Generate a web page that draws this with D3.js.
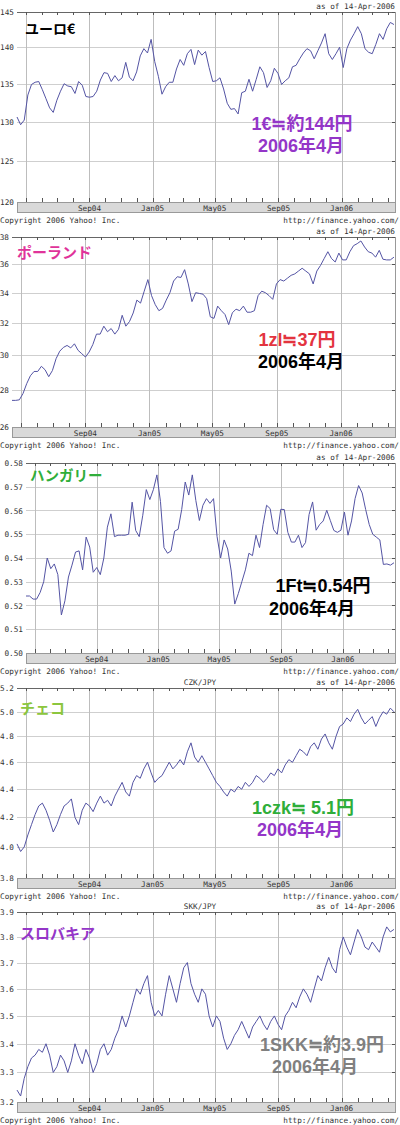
<!DOCTYPE html>
<html>
<head>
<meta charset="utf-8">
<script src="https://cdn.jsdelivr.net/npm/d3@7"></script>
<style>
  body { margin: 0; background: #fff; }
  svg { display: block; }
  .mono { font-family: "DejaVu Sans Mono", monospace; font-size: 7.7px; fill: #333; }
  .jp { font-family: "Noto Sans CJK JP", sans-serif; font-weight: 700; }
  .note { font-family: "Liberation Sans", "Noto Sans CJK JP", sans-serif; font-weight: 700; }
</style>
</head>
<body>
<svg id="chart" width="400" height="1125"></svg>
<script>
// weekly closes, 14-Apr-2004 .. 12-Apr-2006
const startDate = "2004-04-14";
const eurJpy = [
  130.6,129.6,130.2,133.5,134.9,135.2,135.3,134.2,133.0,131.8,
  131.2,132.8,134.0,135.0,134.7,134.6,133.7,135.3,134.8,133.3,
  133.2,133.3,134.0,135.5,136.5,136.4,135.3,136.1,135.4,135.8,
  137.9,135.9,135.4,136.6,138.8,139.8,139.2,141.1,138.0,136.0,
  133.6,134.6,135.2,135.2,137.0,138.3,137.5,139.1,139.7,137.6,
  139.6,138.9,139.4,137.2,135.3,135.4,135.8,134.3,132.4,131.6,
  131.7,131.0,133.8,134.0,135.6,134.0,135.6,137.3,136.5,134.5,
  135.4,137.1,136.4,134.9,135.4,135.8,137.3,137.5,138.4,139.2,
  139.8,139.5,138.4,139.5,140.6,141.9,139.1,138.3,139.1,140.0,
  137.2,139.8,141.0,141.9,142.9,141.9,139.8,139.3,139.1,140.4,
  141.9,141.1,142.6,143.5,143.2
];
const plnJpy = [
  27.42,27.42,27.45,27.8,28.35,28.8,29.05,29.05,29.35,29.15,
  28.75,29.1,29.8,30.25,30.48,30.6,30.45,30.7,30.3,30.1,
  29.9,30.2,30.65,31.3,31.3,31.8,31.45,31.65,31.3,31.6,
  32.5,31.8,32.1,32.65,33.5,33.3,34.1,34.9,33.8,33.2,
  32.8,32.95,33.5,34.0,34.8,35.1,35.05,35.6,34.6,33.4,
  34.0,33.95,33.9,33.6,32.4,32.3,33.1,32.8,32.55,31.9,
  32.66,32.9,32.8,33.1,32.7,32.7,32.8,33.8,34.1,34.0,
  33.8,33.55,34.6,34.9,34.8,35.0,35.2,35.3,35.5,35.7,
  35.5,35.3,34.6,35.5,35.9,36.4,36.9,36.4,36.15,36.8,
  36.3,36.3,36.9,37.35,37.5,37.7,37.25,36.9,36.8,36.5,
  37.0,36.35,36.3,36.3,36.5
];
const hufJpy = [
  0.524,0.524,0.5227,0.5227,0.5255,0.530,0.540,0.5355,0.5375,0.533,
  0.516,0.522,0.532,0.537,0.5425,0.543,0.535,0.5488,0.5446,0.534,
  0.536,0.533,0.540,0.553,0.5586,0.549,0.5496,0.5496,0.5496,0.550,
  0.5635,0.5516,0.549,0.558,0.5688,0.5646,0.5688,0.575,0.5638,0.5444,
  0.542,0.543,0.5513,0.5521,0.5604,0.572,0.5665,0.575,0.5642,0.5558,
  0.5622,0.565,0.563,0.565,0.549,0.540,0.5476,0.5438,0.5345,0.5206,
  0.525,0.530,0.535,0.542,0.541,0.5496,0.5444,0.5541,0.5622,0.5608,
  0.5519,0.550,0.5605,0.5604,0.5508,0.5467,0.5467,0.5496,0.5444,0.5465,
  0.5583,0.5636,0.5517,0.5541,0.5556,0.5601,0.5558,0.5516,0.5508,0.5517,
  0.5593,0.5496,0.5556,0.565,0.5705,0.5674,0.5604,0.5541,0.550,0.5488,
  0.5476,0.5373,0.5375,0.537,0.538
];
const czkJpy = [
  4.02,3.97,4.0,4.08,4.15,4.22,4.28,4.3,4.25,4.18,
  4.1,4.15,4.22,4.28,4.3,4.33,4.2,4.15,4.25,4.3,
  4.28,4.24,4.3,4.35,4.3,4.32,4.28,4.35,4.4,4.45,
  4.38,4.35,4.45,4.5,4.48,4.55,4.6,4.52,4.45,4.48,
  4.5,4.55,4.6,4.55,4.58,4.62,4.58,4.68,4.75,4.64,
  4.6,4.65,4.6,4.55,4.5,4.45,4.42,4.38,4.35,4.4,
  4.38,4.42,4.4,4.45,4.42,4.45,4.5,4.48,4.45,4.48,
  4.52,4.5,4.55,4.52,4.58,4.62,4.6,4.65,4.7,4.68,
  4.65,4.72,4.75,4.7,4.78,4.82,4.75,4.7,4.8,4.88,
  4.9,4.95,4.92,4.98,5.02,4.95,4.9,4.93,4.96,4.88,
  4.95,5.0,4.98,5.03,5.0
];
const skkJpy = [
  3.24,3.22,3.28,3.32,3.35,3.36,3.38,3.37,3.4,3.36,
  3.3,3.32,3.36,3.34,3.3,3.34,3.4,3.36,3.33,3.38,
  3.35,3.3,3.33,3.38,3.4,3.36,3.38,3.42,3.45,3.5,
  3.46,3.5,3.55,3.6,3.58,3.62,3.65,3.55,3.5,3.52,
  3.5,3.58,3.65,3.6,3.55,3.62,3.68,3.7,3.62,3.58,
  3.55,3.6,3.58,3.5,3.46,3.5,3.48,3.42,3.38,3.4,
  3.43,3.45,3.48,3.45,3.42,3.46,3.48,3.5,3.47,3.45,
  3.48,3.5,3.47,3.45,3.5,3.52,3.55,3.53,3.57,3.6,
  3.58,3.55,3.6,3.65,3.63,3.68,3.72,3.68,3.66,3.75,
  3.8,3.76,3.73,3.78,3.83,3.8,3.76,3.75,3.78,3.76,
  3.74,3.8,3.84,3.82,3.83
];

const eurTicks = [120, 125, 130, 135, 140, 145];
const plnTicks = [26, 28, 30, 32, 34, 36, 38];
const hufTicks = [0.50, 0.51, 0.52, 0.53, 0.54, 0.55, 0.56, 0.57, 0.58];
const czkTicks = [3.8, 4.0, 4.2, 4.4, 4.6, 4.8, 5.0, 5.2];
const skkTicks = [3.2, 3.3, 3.4, 3.5, 3.6, 3.7, 3.8, 3.9];

const titles = ["ユーロ€", "ポーランド", "ハンガリー", "チェコ", "スロバキア"];
const symbols = ["", "", "", "CZK/JPY", "SKK/JPY"];
const noteLine1 = ["1€≒約144円", "1zl≒37円", "1Ft≒0.54円", "1czk≒ 5.1円", "1SKK≒約3.9円"];
const noteLine2 = ["2006年4月", "2006年4月", "2006年4月", "2006年4月", "2006年4月"];
const asOfText = "as of 14-Apr-2006";
const copyText = "Copyright 2006 Yahoo! Inc.";
const urlText = "http://finance.yahoo.com/";

// layout / style per panel
const layout = [
  { top: 12,  left: 17, fmt: "d",   log: true,  title: { x: 25, y: 34, size: 14, color: "#000" },
    n1: { x: 302, y: 130, color: "#9436c8" }, n2: { x: 301, y: 152, color: "#9436c8" } },
  { top: 237, left: 12, fmt: "d",   log: true,  title: { x: 17, y: 258, size: 15, color: "#e0339a" },
    n1: { x: 297, y: 346, color: "#e3343f" }, n2: { x: 301, y: 368, color: "#000" } },
  { top: 463, left: 26, fmt: ".2f", log: false, title: { x: 30, y: 481, size: 14.5, color: "#2fae3a" },
    n1: { x: 323, y: 592, color: "#000" }, n2: { x: 312, y: 615, color: "#000" } },
  { top: 688, left: 17, fmt: ".1f", log: true,  title: { x: 20, y: 714, size: 15, color: "#8cc63e" },
    n1: { x: 303, y: 814, color: "#2fae3a" }, n2: { x: 300, y: 836, color: "#9436c8" } },
  { top: 912, left: 17, fmt: ".1f", log: true,  title: { x: 20, y: 939, size: 15, color: "#9436c8" },
    n1: { x: 322, y: 1051, color: "#808080" }, n2: { x: 315, y: 1073, color: "#808080" } }
];
const series = [eurJpy, plnJpy, hufJpy, czkJpy, skkJpy];
const ticks = [eurTicks, plnTicks, hufTicks, czkTicks, skkTicks];

const svg = d3.select("svg#chart");
const right = 395, plotH = 190;
const t0 = d3.timeParse("%Y-%m-%d")(startDate);
const t1 = d3.timeDay.offset(t0, 730);
const monthFmt = d3.timeFormat("%b%y");

series.forEach((values, p) => {
  const L = layout[p];
  const top = L.top, bottom = top + plotH;
  const data = values.map((v, i) => ({ date: d3.timeDay.offset(t0, 7 * i), value: v }));
  const yt = ticks[p];

  // SCALES
  const x = d3.scaleTime().domain([t0, t1]).range([L.left, right]);
  const y = (L.log ? d3.scaleLog() : d3.scaleLinear())
    .domain([yt[0], yt[yt.length - 1]]).range([bottom, top]);

  const g = svg.append("g");

  // grid
  g.append("g").selectAll("line").data(yt).join("line")
    .attr("x1", L.left).attr("x2", right)
    .attr("y1", d => Math.round(y(d)) + 0.5).attr("y2", d => Math.round(y(d)) + 0.5)
    .attr("stroke", "#cfcfcf");
  const grid = d3.timeMonth.every(4).range(t0, t1);
  g.append("g").selectAll("line").data(grid).join("line")
    .attr("x1", d => Math.round(x(d)) + 0.5).attr("x2", d => Math.round(x(d)) + 0.5)
    .attr("y1", top).attr("y2", bottom)
    .attr("stroke", "#bdbdbd");

  // frame: top + right
  g.append("line").attr("x1", L.left).attr("x2", right + 0.5)
    .attr("y1", top + 0.5).attr("y2", top + 0.5).attr("stroke", "#666");
  g.append("line").attr("x1", right + 0.5).attr("x2", right + 0.5)
    .attr("y1", top).attr("y2", bottom).attr("stroke", "#999");

  // month ticks top & bottom
  const months = d3.timeMonth.range(t0, t1);
  g.append("g").selectAll("line").data(months).join("line")
    .attr("x1", d => Math.round(x(d)) + 0.5).attr("x2", d => Math.round(x(d)) + 0.5)
    .attr("y1", top).attr("y2", top + 3).attr("stroke", "#555");
  g.append("g").selectAll("line").data(months).join("line")
    .attr("x1", d => Math.round(x(d)) + 0.5).attr("x2", d => Math.round(x(d)) + 0.5)
    .attr("y1", bottom - 4).attr("y2", bottom).attr("stroke", "#555");
  // right ticks
  g.append("g").selectAll("line").data(yt).join("line")
    .attr("x1", right - 3).attr("x2", right)
    .attr("y1", d => Math.round(y(d)) + 0.5).attr("y2", d => Math.round(y(d)) + 0.5)
    .attr("stroke", "#555");

  // y labels
  const fmt = d3.format(L.fmt);
  g.append("g").selectAll("text").data(yt).join("text")
    .attr("class", "mono")
    .attr("x", L.left - 3).attr("y", d => y(d) + 3)
    .attr("text-anchor", "end")
    .text(d => fmt(d));

  // x band
  g.append("rect").attr("x", L.left + 0.5).attr("y", bottom + 0.5)
    .attr("width", right - L.left).attr("height", 10)
    .attr("fill", "#d9d9d9").attr("stroke", "#999");
  g.append("g").selectAll("text").data(grid.filter(d => x(d) - L.left > 20)).join("text")
    .attr("class", "mono")
    .attr("x", d => x(d)).attr("y", bottom + 9)
    .attr("text-anchor", "middle")
    .text(d => monthFmt(d));

  // LINE
  const line = d3.line().x(d => x(d.date)).y(d => y(d.value));
  g.append("path").datum(data)
    .attr("d", line)
    .attr("fill", "none")
    .attr("stroke", "#5454a4")
    .attr("stroke-width", 1);

  // header / footer texts
  g.append("text").attr("class", "mono").attr("x", right).attr("y", top - 3)
    .attr("text-anchor", "end").text(asOfText);
  if (symbols[p]) {
    g.append("text").attr("class", "mono").attr("x", 200).attr("y", top - 3)
      .attr("text-anchor", "middle").text(symbols[p]);
  }
  g.append("text").attr("class", "mono").attr("x", 0).attr("y", bottom + 21).text(copyText);
  g.append("text").attr("class", "mono").attr("x", 399).attr("y", bottom + 21)
    .attr("text-anchor", "end").text(urlText);

  // title and two-line note
  g.append("text").attr("class", "jp")
    .attr("x", L.title.x).attr("y", L.title.y)
    .attr("font-size", L.title.size).attr("fill", L.title.color)
    .text(titles[p]);
  [[L.n1, noteLine1[p]], [L.n2, noteLine2[p]]].forEach(([pos, txt]) => {
    g.append("text").attr("class", "note")
      .attr("x", pos.x).attr("y", pos.y)
      .attr("text-anchor", "middle").attr("font-size", 18)
      .attr("fill", pos.color)
      .text(txt);
  });
});
</script>
</body>
</html>
